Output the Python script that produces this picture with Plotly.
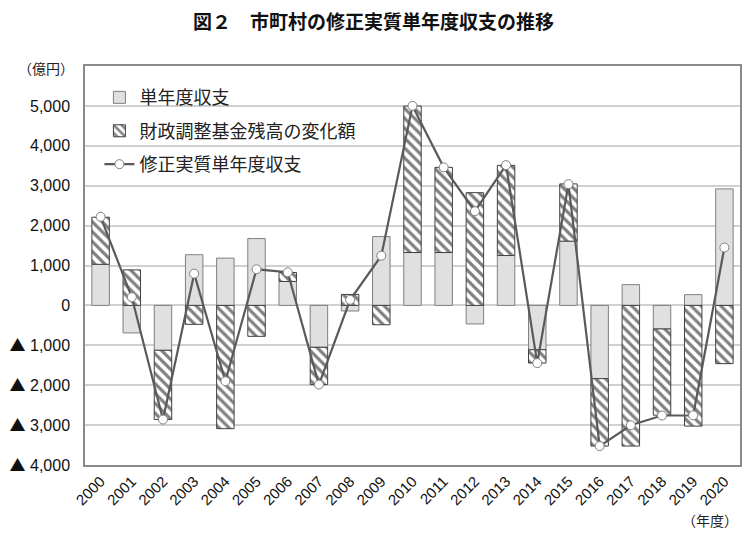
import plotly.graph_objects as go

years = [str(y) for y in range(2000, 2021)]
single_year = [1030, -690, -1125, 1270, 1185, 1675, 600, -1050, -140, 1725, 1325,
               1325, -465, 1250, -1110, 1610, -1835, 520, -590, 270, 2920]
fund_change = [1180, 890, -1735, -475, -3090, -775, 225, -935, 275, -485, 3670,
               2135, 2825, 2260, -335, 1435, -1690, -3525, -2160, -3025, -1460]
corrected = [2220, 205, -2860, 795, -1900, 905, 830, -1985, 140, 1245, 5000,
             3460, 2360, 3515, -1445, 3040, -3525, -3005, -2760, -2755, 1450]

ytick_vals = [-4000, -3000, -2000, -1000, 0, 1000, 2000, 3000, 4000, 5000]
TRI = '<span style="font-family:Noto Sans CJK JP">▲</span> '
ytick_text = [TRI + "4,000", TRI + "3,000", TRI + "2,000", TRI + "1,000", "0",
              "1,000", "2,000", "3,000", "4,000", "5,000"]

title_text = "<b>図２　市町村の修正実質単年度収支の推移</b>"
legend_names = ["単年度収支", "財政調整基金残高の変化額", "修正実質単年度収支"]

JP = "Noto Sans CJK JP"
NUM = "Liberation Sans, Arial, sans-serif"

fig = go.Figure()
fig.add_trace(go.Bar(
    x=years, y=single_year, name=legend_names[0], legendgroup="a",
    marker=dict(color="#e0e0e0", line=dict(color="#7f7f7f", width=1)),
))
fig.add_trace(go.Bar(
    x=years, y=fund_change, name=legend_names[1], legendgroup="b",
    marker=dict(color="white", line=dict(color="#404040", width=1),
                pattern=dict(shape="\\", fgcolor="black", bgcolor="white",
                             size=7, solidity=0.45)),
))
fig.add_trace(go.Scatter(
    x=years, y=corrected, name=legend_names[2], legendgroup="c",
    mode="lines+markers",
    line=dict(color="#5a5a5a", width=2.2),
    marker=dict(symbol="circle", size=9, color="white",
                line=dict(color="#7f7f7f", width=1)),
))

fig.update_layout(
    width=742, height=527,
    margin=dict(l=77, r=10, t=58, b=70),
    paper_bgcolor="white", plot_bgcolor="white",
    barmode="relative", bargap=0.44,
    showlegend=True,
    legend=dict(x=0.022, y=0.967, xanchor="left", yanchor="top",
                font=dict(family=JP, size=18, color="#222"),
                tracegroupgap=7, bgcolor="rgba(0,0,0,0)",
                itemwidth=30),
    font=dict(family=JP, color="#222"),
    annotations=[
        dict(text=title_text, xref="paper", yref="paper", x=0.44, y=1.0,
             yshift=46, xanchor="center", yanchor="middle", showarrow=False,
             font=dict(family=JP, size=19, color="#111")),
        dict(text="（億円）", xref="paper", yref="paper", x=0, xshift=-69,
             y=1.0, yshift=-2, xanchor="left", yanchor="middle", showarrow=False,
             font=dict(family=JP, size=14, color="#222")),
        dict(text="（年度）", xref="paper", yref="paper", x=1.0, xshift=0,
             y=0, yshift=-55, xanchor="right", yanchor="middle", showarrow=False,
             font=dict(family=JP, size=14, color="#222")),
    ],
)
fig.update_xaxes(
    type="category", tickangle=-45, automargin=False,
    range=[-0.5, len(years) - 0.5],
    tickfont=dict(family=NUM, size=15, color="#111"),
    showline=True, linecolor="#8a8a8a", linewidth=1.5, mirror=True,
    showgrid=False, ticks="",
)
fig.update_yaxes(
    range=[-4000, 6000], tickvals=ytick_vals, ticktext=ytick_text,
    automargin=False,
    tickfont=dict(family=NUM, size=16, color="#111"),
    showline=True, linecolor="#8a8a8a", linewidth=1.5, mirror=True,
    showgrid=True, gridcolor="#d0d0d0", gridwidth=1.5,
    zeroline=True, zerolinecolor="#d0d0d0", zerolinewidth=1.5,
    ticks="", ticklabelstandoff=10,
)

fig.write_html("out.html")
